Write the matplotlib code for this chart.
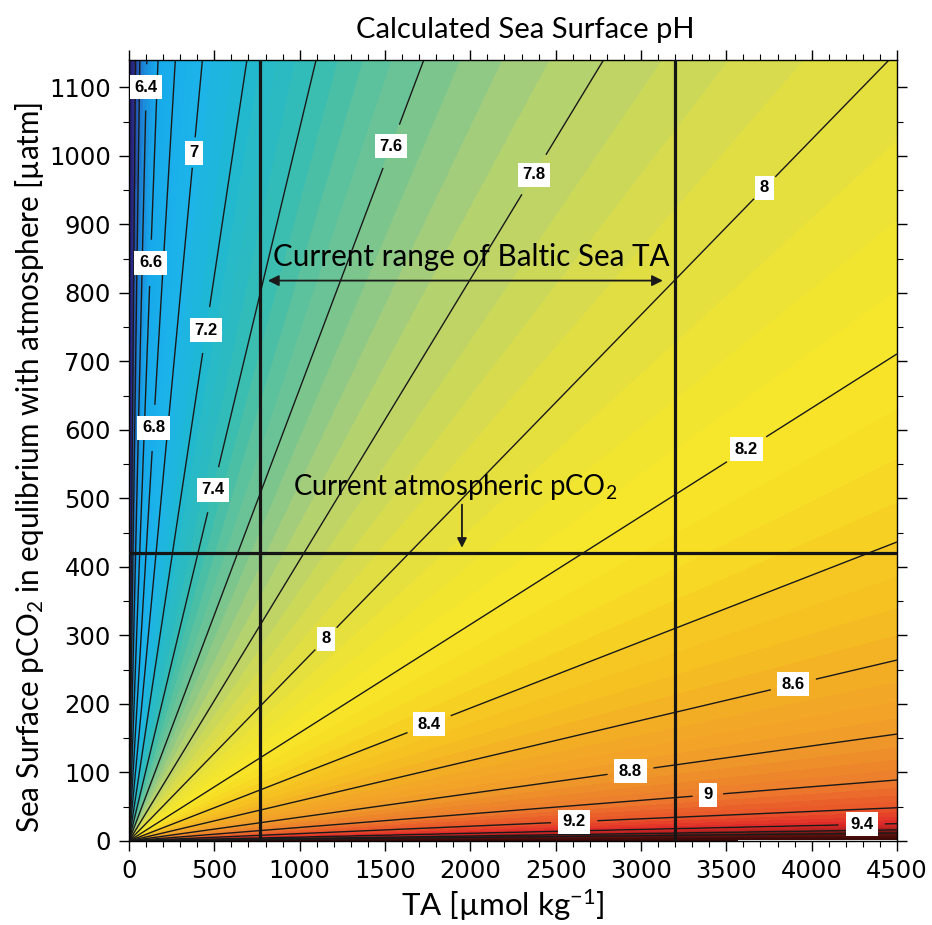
import numpy as np
import matplotlib
matplotlib.use("Agg")
import matplotlib.pyplot as plt
from matplotlib.colors import LinearSegmentedColormap

# ---------------- data ----------------
# pH contour levels and the pCO2/TA ratio along each contour line
ph_levels = [6.0, 6.2, 6.4, 6.6, 6.8, 7.0, 7.2, 7.4, 7.6, 7.8,
             8.0, 8.2, 8.4, 8.6, 8.8, 9.0, 9.2, 9.4, 9.6, 9.8]
ratio_at_level = [30.0, 18.0, 10.9, 6.7, 4.2, 2.65, 1.65, 1.04, 0.66, 0.41,
                  0.256, 0.158, 0.097, 0.0587, 0.0347, 0.0198, 0.0108, 0.0056,
                  0.0036, 0.0026]
# outer anchors so the colour field extends beyond the drawn contours
ph_outer = [5.6, 10.2]
ratio_outer = [80.0, 0.0008]

labelled_levels = [6.4, 6.6, 6.8, 7.0, 7.2, 7.4, 7.6, 7.8,
                   8.0, 8.2, 8.4, 8.6, 8.8, 9.0, 9.2, 9.4]

baltic_ta_range = [770, 3200]        # umol/kg
atm_pco2 = 420                       # uatm

x_ticks = [0, 500, 1000, 1500, 2000, 2500, 3000, 3500, 4000, 4500]
y_ticks = [0, 100, 200, 300, 400, 500, 600, 700, 800, 900, 1000, 1100]

# colour anchors (pH -> colour)
cmap_ph = [5.6, 6.0, 6.2, 6.4, 6.6, 7.0, 7.2, 7.4, 7.5, 7.6, 7.7, 7.8, 7.9,
           8.0, 8.1, 8.2, 8.3, 8.4, 8.5, 8.6, 8.8, 9.0, 9.2, 9.3, 9.4, 9.6,
           9.8, 10.2]
cmap_col = ["#231f6e", "#2b2f8c", "#1f6fc8", "#1a8fdc", "#17a9ec", "#1cb4ea",
            "#20b8d2", "#34bcb4", "#52c0a2", "#74c592", "#9acb80", "#bad36a",
            "#d2da52", "#e4df40", "#f0e432", "#f8e72a", "#f7dc24", "#f6cc22",
            "#f5be22", "#f4b024", "#f09a2a", "#ec7c2c", "#e8532a", "#e53e2a",
            "#de2a28", "#b0201e", "#6a1410", "#3a0a08"]

# ---------------- build field from the read table ----------------
ta = np.linspace(0, 4500, 1200)
pco2 = np.linspace(0, 1140, 800)
TA, PC = np.meshgrid(ta, pco2)
ratio = PC / np.maximum(TA, 1e-6)
lr = np.log(np.maximum(ratio, 1e-12))
all_ph = np.array([ph_outer[0]] + ph_levels + [ph_outer[1]])
all_ratio = np.array([ratio_outer[0]] + ratio_at_level + [ratio_outer[1]])
xp = np.log(all_ratio)[::-1]
fp = all_ph[::-1]
PH = np.interp(lr, xp, fp)

lo, hi = cmap_ph[0], cmap_ph[-1]
cmap = LinearSegmentedColormap.from_list(
    "phmap", [((v - lo) / (hi - lo), c) for v, c in zip(cmap_ph, cmap_col)])

# ---------------- figure ----------------
plt.rcParams["mathtext.default"] = "regular"
fig = plt.figure(figsize=(9.32, 9.25), dpi=100)
ax = fig.add_axes([129 / 932, 84 / 925, 768 / 932, 781 / 925])

fill_levels = np.arange(5.6, 10.21, 0.05)
ax.contourf(TA, PC, PH, levels=fill_levels, cmap=cmap, vmin=lo, vmax=hi,
            antialiased=False)

label_pos = {
    6.4: [(100, 1100)],
    6.6: [(124, 844)],
    6.8: [(141, 603)],
    7.0: [(377, 1005)],
    7.2: [(448, 746)],
    7.4: [(489, 513)],
    7.6: [(1537, 1014)],
    7.8: [(2391, 970)],
    8.0: [(3722, 954), (1160, 294)],
    8.2: [(3628, 568)],
    8.4: [(1761, 169)],
    8.6: [(3893, 228)],
    8.8: [(2939, 101)],
    9.0: [(3392, 67)],
    9.2: [(2609, 28)],
    9.4: [(4293, 23)],
}

for lev in ph_levels:
    cs = ax.contour(TA, PC, PH, levels=[lev], colors="#1a1a1a",
                    linewidths=1.0)
    if lev in labelled_levels and lev in label_pos:
        cs.clabel(manual=label_pos[lev], inline=True, inline_spacing=10,
                  fmt=lambda v: f"{v:g}", fontsize=12, colors="black")

for t in ax.texts:
    t.set_rotation(0)
    t.set_fontweight("bold")
    t.set_family(["Liberation Sans", "DejaVu Sans"])
    t.set_bbox(dict(facecolor="white", edgecolor="none", pad=3.2))
    t.set_zorder(5)

# thick reference lines
for x in baltic_ta_range:
    ax.axvline(x, color="#151515", lw=2.3, zorder=4)
ax.axhline(atm_pco2, color="#151515", lw=2.3, zorder=4)

ax.set_xlim(0, 4500)
ax.set_ylim(0, 1140)
ax.set_xticks(x_ticks)
ax.set_yticks(y_ticks)
ax.set_xticks(np.arange(0, 4501, 100), minor=True)
ax.set_yticks(np.arange(0, 1141, 50), minor=True)
ax.tick_params(which="both", direction="out", top=True, right=True,
               labeltop=False, labelright=False)
ax.tick_params(which="major", length=7, width=1, pad=6)
ax.tick_params(which="minor", length=4, width=0.8)
for lab in ax.get_xticklabels() + ax.get_yticklabels():
    lab.set_family(["DejaVu Sans"])
    lab.set_fontsize(17.5)
for s in ax.spines.values():
    s.set_linewidth(1.0)

fam = ["Lato", "DejaVu Sans"]

fig.text(525 / 932, 1 - 30 / 925, "Calculated Sea Surface pH", ha="center",
         va="center", fontsize=21, family=fam)
fig.text(503 / 932, 1 - 905 / 925, "TA [µmol kg$^{-1}$]", ha="center",
         va="center", fontsize=22.5, family=fam)
fig.text(30 / 932, 1 - 467 / 925,
         "Sea Surface pCO$_2$ in equlibrium with atmosphere [µatm]",
         ha="center", va="center", rotation=90, fontsize=21.3, family=fam)

# annotations
ax.annotate("", xy=(814, 818), xytext=(3128, 818),
            arrowprops=dict(arrowstyle="<|-|>", color="#1a1a1a", lw=1.3,
                            mutation_scale=16, shrinkA=0, shrinkB=0),
            zorder=6)
ax.text(2003, 853, "Current range of Baltic Sea TA", ha="center",
        va="center", fontsize=21.3, family=fam, zorder=6)
ax.text(1910, 517, "Current atmospheric pCO$_2$", ha="center", va="center",
        fontsize=19.8, family=fam, zorder=6)
ax.annotate("", xy=(1951, 428), xytext=(1951, 491),
            arrowprops=dict(arrowstyle="-|>", color="#1a1a1a", lw=1.3,
                            mutation_scale=14, shrinkA=0, shrinkB=0),
            zorder=6)

fig.savefig("out.png", dpi=100)
